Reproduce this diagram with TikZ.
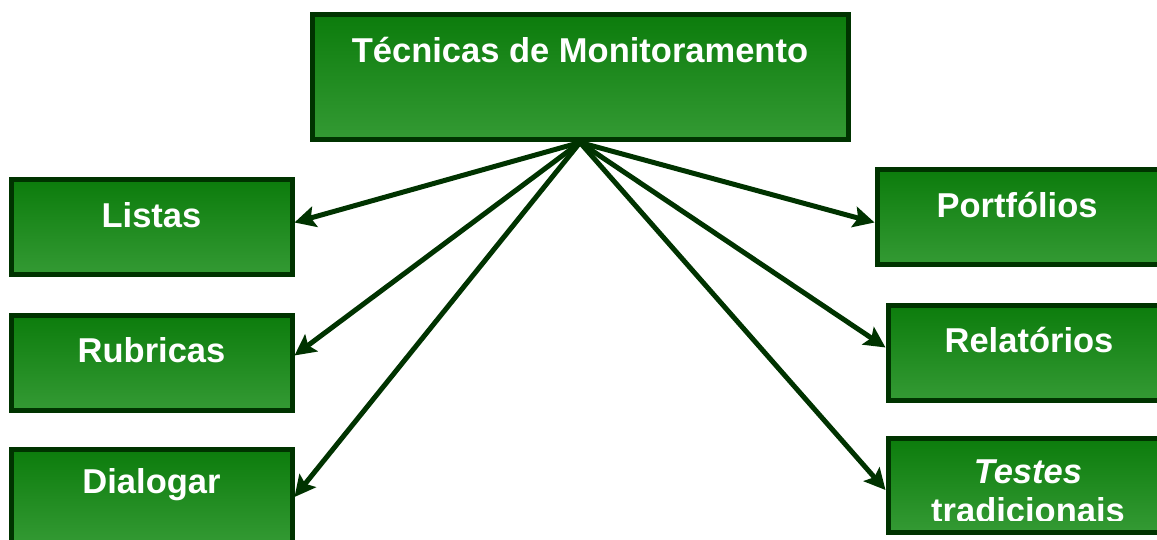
\documentclass[tikz,border=0pt]{standalone}
\usepackage{fontspec}
\setmainfont{Liberation Sans}
\usetikzlibrary{arrows.meta}
\definecolor{gtop}{RGB}{12,124,12}
\definecolor{gbot}{RGB}{52,154,52}
\definecolor{gline}{RGB}{0,51,0}
\tikzset{
  box/.style={draw=gline, line width=5pt, top color=gtop, bottom color=gbot, shading angle=0, inner sep=0pt},
  lbl/.style={text=white, font=\fontsize{34.5}{40}\selectfont\bfseries, inner sep=0pt, align=center},
  conn/.style={draw=gline, line width=5pt, -{Stealth[length=21pt,width=21pt,inset=4pt]}}
}
\begin{document}
\begin{tikzpicture}[x=1pt,y=-1pt]
\useasboundingbox (0,0) rectangle (1157,540);
\clip (0,0) rectangle (1157,540);
\node[box, minimum width=536pt, minimum height=125pt] (top) at (580,77.5) {};
\node[box, minimum width=281pt, minimum height=95pt] (listas) at (151.5,227.5) {};
\node[box, minimum width=281pt, minimum height=95pt] (rubricas) at (151.5,362.5) {};
\node[box, minimum width=281pt, minimum height=96pt] (dialogar) at (151.5,497) {};
\node[box, minimum width=293pt, minimum height=95pt] (portfolios) at (1023.5,217.5) {};
\node[box, minimum width=282pt, minimum height=95pt] (relatorios) at (1029,352.5) {};
\node[box, minimum width=282pt, minimum height=94pt] (testes) at (1029,485) {};

\node[lbl] (ttop) at (580,50) {Técnicas de Monitoramento};
\node[lbl] (tlistas) at (151.5,215) {Listas};
\node[lbl] (trubricas) at (151.5,350) {Rubricas};
\node[lbl] (tdialogar) at (151.5,485) {Dialogar};
\node[lbl] (tportfolios) at (1017,205) {Portfólios};
\node[lbl] (trelatorios) at (1029,340) {Relatórios};
\begin{scope}
\clip (880,430) rectangle (1160,520);
\node[lbl] (ttestes1) at (1028,472) {\itshape Testes};
\node[lbl] (ttestes2) at (1028,510) {tradicionais};
\end{scope}

\draw[conn] (top.south) -- ([yshift=5pt]listas.east);
\draw[conn] (top.south) -- ([yshift=7pt]rubricas.east);
\draw[conn] (top.south) -- (dialogar.east);
\draw[conn] (top.south) -- ([yshift=-5pt]portfolios.west);
\draw[conn] (top.south) -- ([yshift=5pt]relatorios.west);
\draw[conn] (top.south) -- ([yshift=-5pt]testes.west);
\end{tikzpicture}
\end{document}
